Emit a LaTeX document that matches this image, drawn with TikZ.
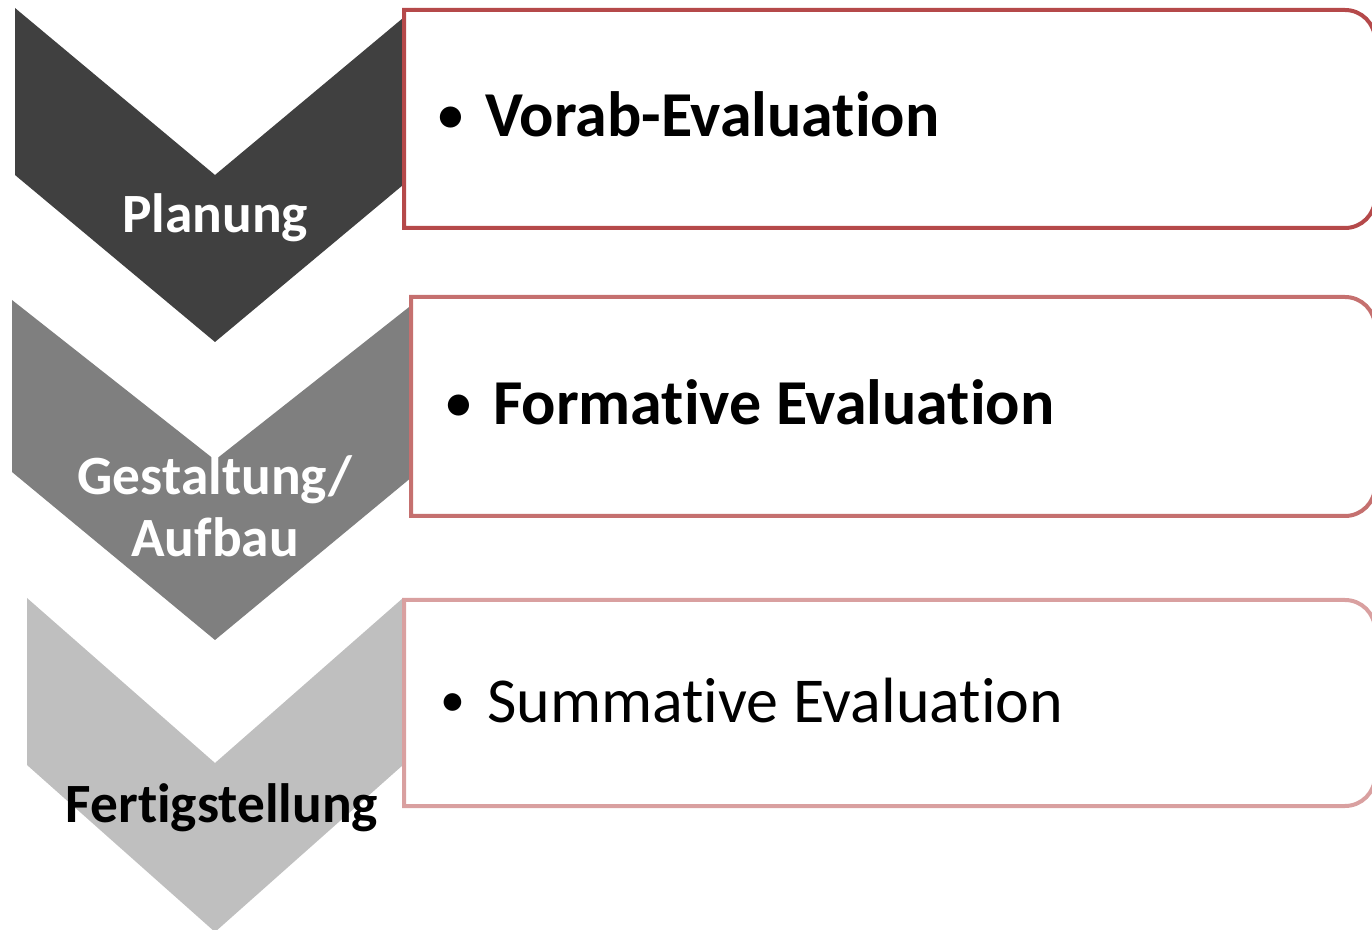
\documentclass[tikz,border=0pt]{standalone}
\usepackage{fontspec}
\setmainfont[Ligatures=NoCommon]{Carlito}
\definecolor{chevA}{HTML}{404040}
\definecolor{chevB}{HTML}{7F7F7F}
\definecolor{chevC}{HTML}{BFBFBF}
\definecolor{boxA}{HTML}{B5494A}
\definecolor{boxB}{HTML}{C5706F}
\definecolor{boxC}{HTML}{D9A0A0}
\newcommand{\itembullet}{\raisebox{2.5pt}{\scalebox{0.78}{•}}}
\tikzset{
  chevlabel/.style={font=\bfseries\fontsize{27.7pt}{31pt}\selectfont, anchor=base, inner sep=0pt, align=center},
  itemtext/.style={font=\fontsize{32pt}{36pt}\selectfont, anchor=base west, inner sep=0pt},
  itembold/.style={itemtext, font=\bfseries\fontsize{32pt}{36pt}\selectfont},
  listbox/.style={line width=2pt, fill=white},
}
\begin{document}
\begin{tikzpicture}[x=0.5pt,y=-0.5pt]
\useasboundingbox (0,0) rectangle (1372,930);
\clip (0,0) rectangle (1372,930);
% chevrons
\fill[chevA] (15,8) -- (215,175) -- (415,8) -- (415,175) -- (215,342) -- (15,175) -- cycle;
\fill[chevB] (12,300) -- (215,460) -- (418,300) -- (418,472) -- (215,640) -- (12,472) -- cycle;
\fill[chevC] (27,598) -- (215,763) -- (403,598) -- (403,765) -- (215,932) -- (27,765) -- cycle;
% boxes
\draw[listbox, draw=boxA] (404,10) [rounded corners=15pt] -- (1375,10) -- (1375,228) [sharp corners] -- (404,228) -- cycle;
\draw[listbox, draw=boxB] (411,297) [rounded corners=15pt] -- (1375,297) -- (1375,516) [sharp corners] -- (411,516) -- cycle;
\draw[listbox, draw=boxC] (404,600) [rounded corners=15pt] -- (1375,600) -- (1375,806) [sharp corners] -- (404,806) -- cycle;
% chevron labels
\node[chevlabel, text=white] (planung) at (215,233) {Planung};
\node[chevlabel, text=white] (gestaltung) at (215,495) {Gestaltung/};
\node[chevlabel, text=white] (aufbau) at (215,557) {Aufbau};
\node[chevlabel, text=black] (fertig) at (222,822) {Fertigstellung};
% items
\node[itembold] (vorab) at (438,137) {\itembullet\hspace{0.34em}Vorab-Evaluation};
\node[itembold] (formativ) at (446,425) {\itembullet\hspace{0.34em}Formative Evaluation};
\node[itemtext] (summativ) at (440,722) {\itembullet\hspace{0.34em}Summative Evaluation};
\end{tikzpicture}
\end{document}
